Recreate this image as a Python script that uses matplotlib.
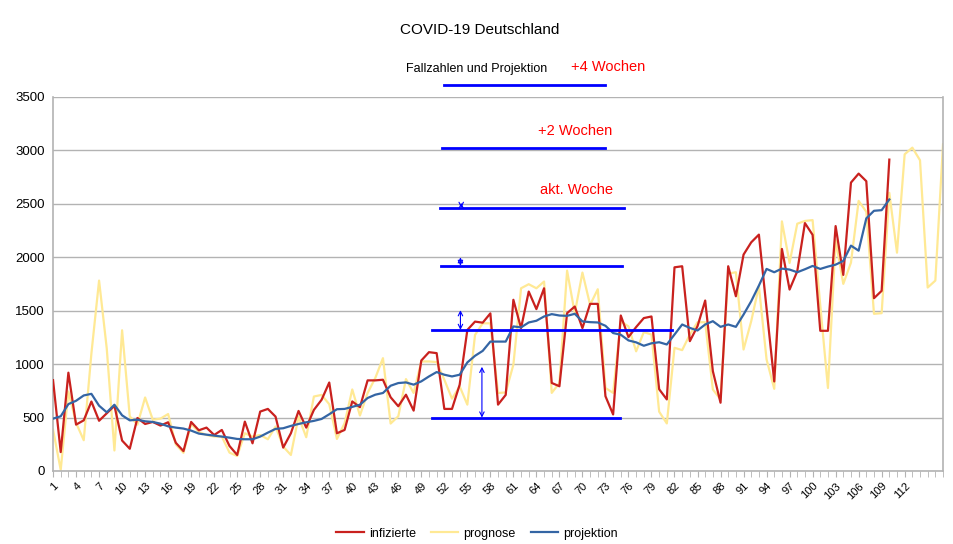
import numpy as np
import matplotlib
matplotlib.use("Agg")
import matplotlib.pyplot as plt

plt.rcParams['font.family'] = ['Liberation Sans', 'DejaVu Sans']

# weekly numbers
infizierte = [850, 177, 920, 434, 474, 650, 470, 540, 610, 285,
              208, 496, 440, 459, 425, 456, 264, 186, 459, 381,
              406, 337, 384, 234, 150, 462, 259, 556, 581, 509,
              219, 353, 562, 406, 572, 666, 828, 353, 384, 651,
              597, 848, 848, 854, 690, 606, 714, 565, 1034, 1112,
              1103, 581, 581, 808, 1320, 1398, 1388, 1475, 621, 712,
              1602, 1337, 1679, 1515, 1710, 824, 793, 1477, 1539, 1337,
              1564, 1564, 700, 529, 1455, 1253, 1347, 1431, 1446, 765,
              670, 1906, 1916, 1215, 1355, 1595, 934, 639, 1916, 1635,
              2025, 2140, 2212, 1520, 838, 2078, 1698, 1869, 2320, 2210,
              1312, 1312, 2292, 1835, 2699, 2783, 2712, 1617, 1686, 2914]

prognose = [388, 10, 744, 450, 288, 1100, 1782, 1147, 192, 1317,
            511, 434, 688, 480, 490, 533, 248, 170, 440, 366,
            337, 322, 322, 172, 140, 353, 322, 337, 297, 416,
            228, 150, 509, 316, 697, 712, 625, 300, 447, 763,
            519, 730, 870, 1056, 444, 512, 860, 730, 1025, 1025,
            1019, 854, 677, 792, 621, 1273, 1382, 1382, 730, 735,
            995, 1710, 1748, 1710, 1773, 731, 824, 1875, 1477, 1857,
            1555, 1701, 777, 731, 1400, 1353, 1120, 1300, 1277, 555,
            445, 1153, 1131, 1277, 1392, 1392, 763, 670, 1847, 1860,
            1137, 1402, 1729, 1044, 769, 2336, 1947, 2314, 2340, 2348,
            1550, 777, 2161, 1751, 1950, 2528, 2426, 1471, 1477, 2603,
            2043, 2964, 3026, 2908, 1717, 1782, 3057]

projektion = [490, 512, 626, 657, 707, 722, 611, 549, 620, 521,
              474, 480, 465, 459, 443, 418, 406, 397, 378, 350,
              340, 331, 322, 312, 300, 297, 297, 322, 359, 394,
              400, 422, 440, 456, 469, 487, 531, 578, 581, 600,
              620, 683, 714, 730, 798, 823, 829, 808, 839, 885,
              926, 901, 885, 901, 1016, 1078, 1124, 1211, 1211, 1211,
              1353, 1344, 1390, 1406, 1446, 1468, 1455, 1452, 1471, 1400,
              1393, 1390, 1359, 1291, 1275, 1222, 1204, 1172, 1195, 1205,
              1184, 1277, 1371, 1339, 1315, 1371, 1402, 1349, 1371, 1349,
              1464, 1589, 1735, 1891, 1860, 1894, 1885, 1860, 1888, 1919,
              1891, 1913, 1931, 1966, 2109, 2062, 2364, 2435, 2441, 2541]

# hand drawn level lines (level, start week, end week)
levels = [500, 1320, 1920, 2462, 3023, 3613]
starts = [50.4, 50.4, 51.6, 51.5, 51.7, 52.0]
ends = [74.9, 81.7, 75.2, 75.4, 72.9, 73.0]

# double arrows (week, from, to)
arrow_x = [56.9, 54.1, 54.1, 54.2]
arrow_lo = [500, 1320, 1920, 2462]
arrow_hi = [975, 1505, 2000, 2510]

weeks_i = np.arange(1, len(infizierte) + 1)
weeks_p = np.arange(1, len(prognose) + 1)
weeks_j = np.arange(1, len(projektion) + 1)

fig = plt.figure(figsize=(9.54, 5.44), dpi=100)
ax = fig.add_axes([0.0556, 0.1342, 0.9329, 0.6875])

ax.plot(weeks_i, infizierte, color='#c9211e', lw=1.6, label='infizierte', zorder=3)
ax.plot(weeks_p, prognose, color='#ffe994', lw=1.6, label='prognose', zorder=2)
ax.plot(weeks_j, projektion, color='#3465a4', lw=1.6, label='projektion', zorder=4)

for lv, s, e in zip(levels, starts, ends):
    ax.plot([s, e], [lv, lv], color='#0000ff', lw=2, clip_on=False, zorder=5)

for x, lo, hi in zip(arrow_x, arrow_lo, arrow_hi):
    ax.annotate('', xy=(x, hi), xytext=(x, lo),
                arrowprops=dict(arrowstyle='<->', color='#0000ff', lw=0.8,
                                shrinkA=0, shrinkB=0, mutation_scale=8),
                zorder=5)

ax.text(69.2, 2630, 'akt. Woche', color='#ff0000', fontsize=10.5, ha='center', va='center')
ax.text(69.1, 3182, '+2 Wochen', color='#ff0000', fontsize=10.5, ha='center', va='center')

ax.set_xlim(1, len(prognose))
ax.set_ylim(0, 3500)
ax.set_yticks(np.arange(0, 3501, 500))
ax.set_xticks(np.arange(1, 113, 3))
ax.set_xticks(weeks_p, minor=True)
ax.set_xticklabels([str(w) for w in range(1, 113, 3)], rotation=45, fontsize=8,
                   ha='right', rotation_mode='anchor')
ax.tick_params(axis='y', labelsize=9.5, length=0, pad=6)
ax.tick_params(axis='x', which='both', length=4, color='#b3b3b3', pad=3)
ax.grid(axis='y', color='#b3b3b3', lw=1)
ax.set_axisbelow(True)
for side in ['left', 'bottom', 'right']:
    ax.spines[side].set_color('#b3b3b3')
    ax.spines[side].set_linewidth(1.2)
ax.spines['top'].set_visible(False)

fig.text(0.503, 0.945, 'COVID-19 Deutschland', fontsize=11, ha='center', va='center')
fig.text(0.5, 0.873, 'Fallzahlen und Projektion', fontsize=9, ha='center', va='center')
fig.text(0.637, 0.877, '+4 Wochen', color='#ff0000', fontsize=10.5, ha='center', va='center')

fig.legend(loc='lower center', bbox_to_anchor=(0.5, -0.013), ncol=3, frameon=False,
           fontsize=9, handlelength=2.2, columnspacing=1.2, handletextpad=0.4)

fig.savefig('out.png', dpi=100)
